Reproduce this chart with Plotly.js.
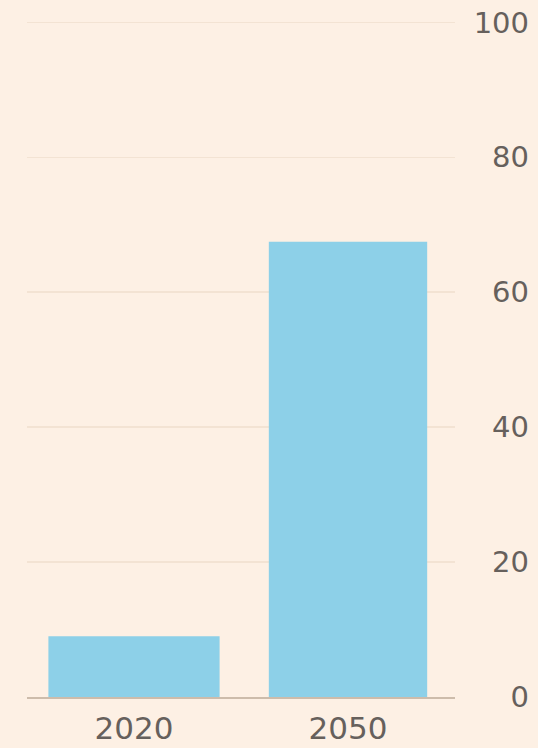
<!DOCTYPE html>
<html>
<head>
<meta charset="utf-8">
<script src="https://cdn.plot.ly/plotly-3.0.1.min.js"></script>
<style>html,body{margin:0;padding:0;background:#fdf0e4;}#chart{width:538px;height:748px;}</style>
</head>
<body>
<div id="chart"></div>
<script>
var categories = ["2020", "2050"];
var values = [9, 67.5];
var barWidths = [0.8, 0.74];
var yTicks = [0, 20, 40, 60, 80, 100];

var W = 538;
var trace = {
  type: "bar",
  x: categories,
  y: values,
  width: barWidths,
  marker: {color: "#8dd0e8", line: {width: 0}},
  hoverinfo: "skip"
};
var layout = {
  width: 538, height: 748,
  margin: {l: 0, r: 0, t: 19, b: 51, pad: 0},
  paper_bgcolor: "#fdf0e4",
  plot_bgcolor: "#fdf0e4",
  showlegend: false,
  font: {family: "'DejaVu Sans', sans-serif", color: "#66605c", size: 30},
  xaxis: {
    domain: [27 / W, 455 / W],
    type: "category",
    range: [-0.5, 1.5],
    showgrid: false,
    zeroline: false,
    showline: true,
    linecolor: "#cdbcab",
    linewidth: 2,
    ticks: "",
    ticklabelstandoff: 3,
    tickfont: {size: 31, color: "#66605c"},
    fixedrange: true
  },
  yaxis: {
    range: [0, 100.5],
    tickvals: yTicks,
    ticktext: yTicks.map(String),
    side: "left",
    anchor: "free",
    position: 529 / W,
    showgrid: true,
    gridcolor: "#f3e3d3",
    gridwidth: 1.5,
    zeroline: false,
    showline: false,
    ticks: "",
    tickfont: {size: 29, color: "#66605c"},
    fixedrange: true
  }
};
Plotly.newPlot("chart", [trace], layout, {displayModeBar: false, staticPlot: true});
</script>
</body>
</html>
